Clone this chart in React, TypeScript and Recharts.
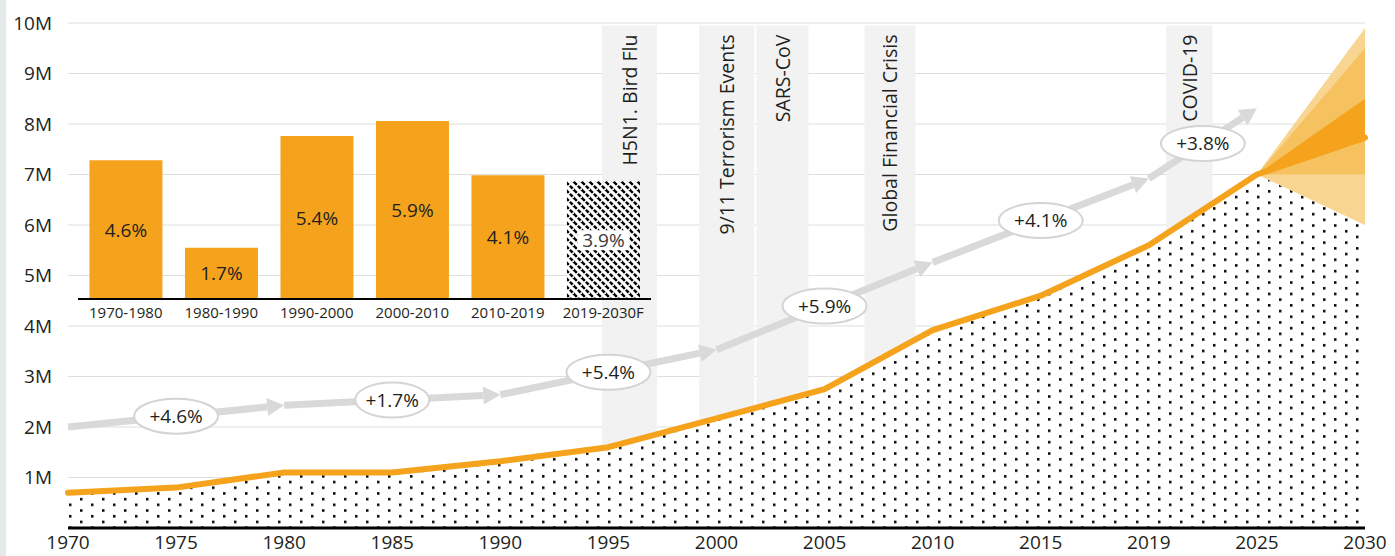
import {
  Area,
  Bar,
  BarChart,
  CartesianGrid,
  Cell,
  ComposedChart,
  LabelList,
  Line,
  ReferenceArea,
  ReferenceLine,
  XAxis,
  YAxis,
} from 'recharts';

const FONT = "'Open Sans', sans-serif";
const INK = '#231f20';
const ORANGE = '#f5a31c';

// main series, values in millions
const years = ['1970', '1975', '1980', '1985', '1990', '1995', '2000', '2005', '2010', '2015', '2019', '2025', '2030'];
const totals = [0.7, 0.8, 1.1, 1.1, 1.32, 1.6, 2.17, 2.75, 3.92, 4.6, 5.6, 7.0, 7.73];

// forecast fan at 2030 (low, high)
const fanOuter = [6.0, 9.9];
const fanMiddle = [7.0, 9.5];
const fanInner = [7.73, 8.5];

// grey trend arrow: axis position + value at each arrow tip
const trendPos = [0, 2, 4, 6, 8, 10, 11];
const trendValues = [2.0, 2.43, 2.64, 3.53, 5.26, 6.92, 8.31];
const trendLabels = ['+4.6%', '+1.7%', '+5.4%', '+5.9%', '+4.1%', '+3.8%'];

// shaded events, bounds in axis positions
const eventNames = ['H5N1. Bird Flu', '9/11 Terrorism Events', 'SARS-CoV', 'Global Financial Crisis', 'COVID-19'];
const eventFrom = [4.94, 5.84, 6.37, 7.37, 10.16];
const eventTo = [5.45, 6.35, 6.85, 7.84, 10.59];

// inset bars
const periods = ['1970-1980', '1980-1990', '1990-2000', '2000-2010', '2010-2019', '2019-2030F'];
const periodGrowth = [4.6, 1.7, 5.4, 5.9, 4.1, 3.9];

const yTicks = [1, 2, 3, 4, 5, 6, 7, 8, 9, 10];
const last = years.length - 1;
const fanStart = last - 1;

const mainData = years.map((year, i) => ({
  idx: i,
  year,
  total: totals[i],
  floor: i === last ? fanOuter[0] : totals[i],
  outer: i === last ? fanOuter : i === fanStart ? [totals[i], totals[i]] : undefined,
  middle: i === last ? fanMiddle : i === fanStart ? [totals[i], totals[i]] : undefined,
  inner: i === last ? fanInner : i === fanStart ? [totals[i], totals[i]] : undefined,
}));

const insetData = periods.map((period, i) => ({ period, growth: periodGrowth[i] }));

function arrowShape(label: string) {
  return (props: any) => {
    const { x1, y1, x2, y2 } = props;
    const dx = x2 - x1;
    const dy = y2 - y1;
    const len = Math.sqrt(dx * dx + dy * dy);
    const ux = dx / len;
    const uy = dy / len;
    const head = 17;
    const half = 9;
    const bx = x2 - ux * head;
    const by = y2 - uy * head;
    const mx = (x1 + x2) / 2;
    const my = (y1 + y2) / 2;
    return (
      <g>
        <line x1={x1} y1={y1} x2={bx} y2={by} stroke="#d9d9d9" strokeWidth={7} />
        <polygon
          points={`${x2},${y2} ${bx - uy * half},${by + ux * half} ${bx + uy * half},${by - ux * half}`}
          fill="#d9d9d9"
        />
        <ellipse cx={mx} cy={my} rx={label.includes('1.7') ? 37 : 42} ry={17.5} fill="#fff" stroke="#d4d4d4" strokeWidth={2} />
        <text x={mx} y={my} textAnchor="middle" dominantBaseline="central" fontSize={19} fill={INK} fontFamily={FONT}>
          {label}
        </text>
      </g>
    );
  };
}

function EventLabel(props: any) {
  const { viewBox, text } = props;
  if (!viewBox) return null;
  const cx = viewBox.x + viewBox.width / 2;
  const ty = viewBox.y + 9;
  return (
    <text
      x={cx}
      y={ty}
      transform={`rotate(-90 ${cx} ${ty})`}
      textAnchor="end"
      dominantBaseline="central"
      fontSize={19.5}
      fill={INK}
      fontFamily={FONT}
    >
      {text}
    </text>
  );
}

function GrowthLabel(props: any) {
  const { x, y, width, height, value, index } = props;
  const cx = x + width / 2;
  const cy = y + height / 2;
  const forecast = index === periods.length - 1;
  return (
    <g>
      {forecast && <rect x={cx - 26} y={cy - 10} width={52} height={20} fill="#fff" />}
      <text x={cx} y={cy} textAnchor="middle" dominantBaseline="central" fontSize={19} fill={forecast ? '#3a3a3a' : INK} fontFamily={FONT}>
        {value}%
      </text>
    </g>
  );
}

export default function App() {
  return (
    <div style={{ position: 'absolute', left: 0, top: 0, width: 1395, height: 556, background: '#fff', fontFamily: FONT }}>
      <svg width={0} height={0} style={{ position: 'absolute' }}>
        <defs>
          <pattern id="dots" width={22} height={11.4} patternUnits="userSpaceOnUse">
            <rect width={22} height={11.4} fill="#fff" />
            <rect x={3} y={2} width={2.5} height={2.5} fill="#000" />
            <rect x={14} y={7.7} width={2.5} height={2.5} fill="#000" />
          </pattern>
          <pattern id="hatch" width={8} height={8} patternUnits="userSpaceOnUse">
            <rect width={8} height={8} fill="#fff" />
            <path d="M0,0 L8,8 M-1,7 L1,9 M7,-1 L9,1" stroke="#000" strokeWidth={2.4} strokeDasharray="4 1.5" />
          </pattern>
        </defs>
      </svg>
      <div style={{ position: 'absolute', left: 0, top: 0, width: 6, height: 556, background: '#e5e9e9' }} />
      <div style={{ position: 'absolute', left: 0, top: 0 }}>
        <ComposedChart width={1395} height={556} data={mainData} margin={{ top: 23, right: 30, bottom: 0, left: 8 }}>
          <CartesianGrid horizontal vertical={false} stroke="#dedede" />
          <XAxis
            dataKey="idx"
            type="number"
            domain={[0, last]}
            ticks={years.map((_, i) => i)}
            tickFormatter={(i: number) => years[i]}
            interval={0}
            height={28}
            axisLine={{ stroke: '#000', strokeWidth: 3 }}
            tickLine={false}
            tick={{ fontSize: 19, fill: INK, fontFamily: FONT }}
          />
          <YAxis
            type="number"
            domain={[0, 10]}
            ticks={yTicks}
            tickFormatter={(v: number) => `${v}M`}
            width={60}
            axisLine={false}
            tickLine={false}
            tickMargin={10}
            tick={{ fontSize: 19, fill: INK, fontFamily: FONT }}
          />
          {eventNames.map((name, i) => (
            <ReferenceArea
              key={name}
              x1={eventFrom[i]}
              x2={eventTo[i]}
              y1={0}
              y2={9.95}
              fill="#f2f2f2"
              fillOpacity={1}
              stroke="none"
              label={<EventLabel text={name} />}
            />
          ))}
          <Area dataKey="floor" type="linear" stroke="none" fill="url(#dots)" fillOpacity={1} isAnimationActive={false} />
          <Area dataKey="outer" type="linear" stroke="none" fill="#f9d592" fillOpacity={1} isAnimationActive={false} />
          <Area dataKey="middle" type="linear" stroke="none" fill="#f6c15f" fillOpacity={1} isAnimationActive={false} />
          <Area dataKey="inner" type="linear" stroke="none" fill={ORANGE} fillOpacity={1} isAnimationActive={false} />
          <Line
            dataKey="total"
            type="linear"
            stroke={ORANGE}
            strokeWidth={6}
            dot={false}
            strokeLinejoin="round"
            strokeLinecap="round"
            isAnimationActive={false}
          />
          {trendLabels.map((label, i) => (
            <ReferenceLine
              key={label}
              segment={[
                { x: trendPos[i], y: trendValues[i] },
                { x: trendPos[i + 1], y: trendValues[i + 1] },
              ]}
              ifOverflow="visible"
              shape={arrowShape(label)}
            />
          ))}
        </ComposedChart>
      </div>
      <div style={{ position: 'absolute', left: 78, top: 118 }}>
        <BarChart width={573} height={207} data={insetData} margin={{ top: 0, right: 0, bottom: 0, left: 0 }} barCategoryGap="12%">
          <XAxis
            dataKey="period"
            height={26}
            interval={0}
            axisLine={{ stroke: '#000', strokeWidth: 2 }}
            tickLine={false}
            tick={{ fontSize: 15, fill: INK, fontFamily: FONT }}
          />
          <YAxis hide domain={[0, 6]} />
          <Bar dataKey="growth" isAnimationActive={false}>
            {insetData.map((d, i) => (
              <Cell key={d.period} fill={i === periods.length - 1 ? 'url(#hatch)' : ORANGE} />
            ))}
            <LabelList dataKey="growth" content={<GrowthLabel />} />
          </Bar>
        </BarChart>
      </div>
    </div>
  );
}
